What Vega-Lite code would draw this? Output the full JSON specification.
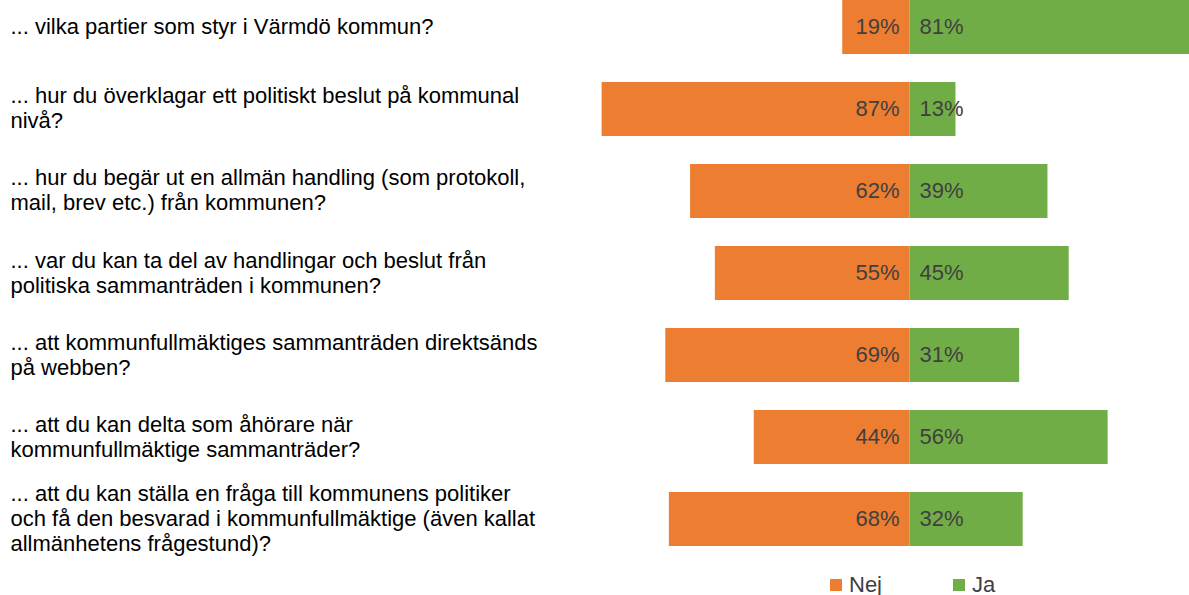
{
  "$schema": "https://vega.github.io/schema/vega-lite/v6.json",
  "width": 598,
  "height": 546,
  "autosize": {"type": "none"},
  "padding": {"left": 591, "top": 0, "right": 0, "bottom": 49},
  "background": "white",
  "config": {"view": {"stroke": null}, "font": "Liberation Sans"},
  "data": {
    "values": [
      {"q": "... vilka partier som styr i Värmdö kommun?", "answer": "Nej", "share": 0.19},
      {"q": "... vilka partier som styr i Värmdö kommun?", "answer": "Ja", "share": 0.81},
      {"q": "... hur du överklagar ett politiskt beslut på kommunal\nnivå?", "answer": "Nej", "share": 0.87},
      {"q": "... hur du överklagar ett politiskt beslut på kommunal\nnivå?", "answer": "Ja", "share": 0.13},
      {"q": "... hur du begär ut en allmän handling (som protokoll,\nmail, brev etc.) från kommunen?", "answer": "Nej", "share": 0.62},
      {"q": "... hur du begär ut en allmän handling (som protokoll,\nmail, brev etc.) från kommunen?", "answer": "Ja", "share": 0.39},
      {"q": "... var du kan ta del av handlingar och beslut från\npolitiska sammanträden i kommunen?", "answer": "Nej", "share": 0.55},
      {"q": "... var du kan ta del av handlingar och beslut från\npolitiska sammanträden i kommunen?", "answer": "Ja", "share": 0.45},
      {"q": "... att kommunfullmäktiges sammanträden direktsänds\npå webben?", "answer": "Nej", "share": 0.69},
      {"q": "... att kommunfullmäktiges sammanträden direktsänds\npå webben?", "answer": "Ja", "share": 0.31},
      {"q": "... att du kan delta som åhörare när\nkommunfullmäktige sammanträder?", "answer": "Nej", "share": 0.44},
      {"q": "... att du kan delta som åhörare när\nkommunfullmäktige sammanträder?", "answer": "Ja", "share": 0.56},
      {"q": "... att du kan ställa en fråga till kommunens politiker\noch få den besvarad i kommunfullmäktige (även kallat\nallmänhetens frågestund)?", "answer": "Nej", "share": 0.68},
      {"q": "... att du kan ställa en fråga till kommunens politiker\noch få den besvarad i kommunfullmäktige (även kallat\nallmänhetens frågestund)?", "answer": "Ja", "share": 0.32}
    ]
  },
  "transform": [
    {"calculate": "datum.answer == 'Nej' ? -datum.share : datum.share", "as": "signed"}
  ],
  "encoding": {
    "y": {
      "field": "q",
      "type": "nominal",
      "sort": null,
      "scale": {"paddingInner": 0.3415, "paddingOuter": 0},
      "axis": {
        "title": null,
        "domain": false,
        "ticks": false,
        "tickSize": 0,
        "labelAlign": "left",
        "labelBaseline": "middle",
        "labelPadding": 581,
        "labelFontSize": 22,
        "labelColor": "#000000",
        "labelLimit": 0,
        "labelLineHeight": 25,
        "labelExpr": "split(datum.label, '\\n')",
        "labelOffset": {
          "condition": [
            {"test": "length(split(datum.value, '\\n')) == 3", "value": -25},
            {"test": "length(split(datum.value, '\\n')) == 2", "value": -12.5}
          ],
          "value": 0
        }
      }
    }
  },
  "layer": [
    {
      "mark": {"type": "bar", "clip": true},
      "encoding": {
        "x": {
          "field": "signed",
          "type": "quantitative",
          "stack": null,
          "scale": {"domain": [-0.9, 0.79], "nice": false},
          "axis": null
        },
        "color": {
          "field": "answer",
          "type": "nominal",
          "scale": {"domain": ["Nej", "Ja"], "range": ["#ED7D31", "#70AD47"]},
          "legend": {
            "title": null,
            "orient": "none",
            "direction": "horizontal",
            "legendX": 234,
            "legendY": 574,
            "symbolType": "square",
            "symbolSize": 144,
            "symbolStrokeWidth": 0,
            "symbolOpacity": 1,
            "labelFontSize": 22,
            "labelColor": "#404040",
            "labelOffset": 2,
            "columnPadding": 65
          }
        }
      }
    },
    {
      "transform": [{"filter": "datum.answer == 'Nej'"}],
      "mark": {"type": "text", "align": "right", "baseline": "middle", "dx": -10, "fontSize": 22, "color": "#404040"},
      "encoding": {
        "x": {"datum": 0, "type": "quantitative"},
        "text": {"field": "share", "type": "quantitative", "format": ".0%"}
      }
    },
    {
      "transform": [{"filter": "datum.answer == 'Ja'"}],
      "mark": {"type": "text", "align": "left", "baseline": "middle", "dx": 10, "fontSize": 22, "color": "#404040"},
      "encoding": {
        "x": {"datum": 0, "type": "quantitative"},
        "text": {"field": "share", "type": "quantitative", "format": ".0%"}
      }
    }
  ]
}
